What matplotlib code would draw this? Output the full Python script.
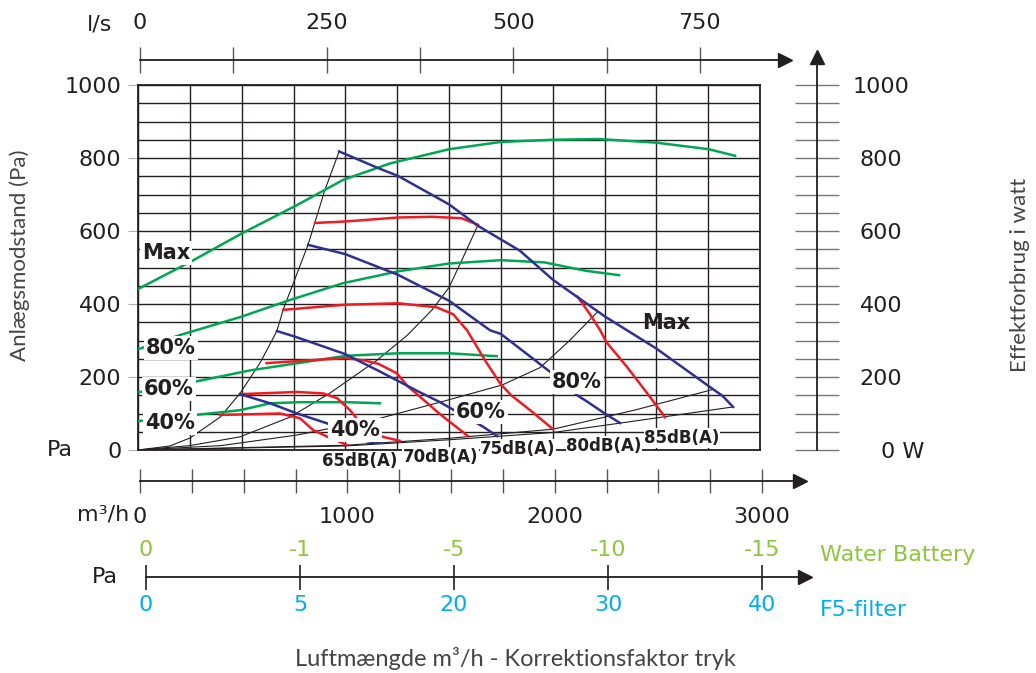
import numpy as np
import matplotlib.pyplot as plt

plt.rcParams['font.family'] = ['DejaVu Sans']

W, H = 1036, 673
ink = '#231f20'
green = '#00a651'
red = '#ed1c24'
blue = '#2e3192'
battery_col = '#8dc63f'
filter_col = '#00aeef'
thin_font = ['Lato', 'DejaVu Sans']

# grid og akser
q_grid = np.arange(0, 3001, 250)
p_major = [0, 200, 400, 600, 800, 1000]
p_minor = np.arange(0, 1001, 50)
ls_ticks = [0, 125, 250, 375, 500, 625, 750]
ls_labels = ['0', '', '250', '', '500', '', '750']
m3_labels = ['0', '', '', '', '1000', '', '', '', '2000', '', '', '', '3000']
watt_labels = ['0 W', '200', '400', '600', '800', '1000']
battery_labels = ['0', '-1', '-5', '-10', '-15']
filter_labels = ['0', '5', '20', '30', '40']

# effektforbrug (W) - grønne kurver
g_max_q = [0, 251, 506, 767, 989, 1215, 1500, 1750, 2002, 2220, 2500, 2754, 2880]
g_max_p = [441, 515, 595, 671, 740, 785, 824, 844, 850, 852, 842, 824, 806]
g_80_q = [0, 203, 492, 733, 989, 1250, 1500, 1750, 1960, 2160, 2320]
g_80_p = [276, 315, 364, 411, 457, 489, 511, 520, 514, 491, 479]
g_60_q = [0, 265, 540, 863, 1000, 1254, 1500, 1730]
g_60_p = [158, 186, 218, 246, 258, 265, 265, 257]
g_40_q = [0, 275, 492, 637, 780, 1008, 1167]
g_40_p = [79, 96, 109, 128, 131, 131, 128]

# ventilatorkurver (Pa) - blå
b_max_q = [970, 1160, 1254, 1500, 1640, 1842, 2002, 2254, 2500, 2760, 2820, 2870]
b_max_p = [818, 772, 751, 673, 614, 546, 466, 365, 278, 172, 148, 118]
b_80_q = [820, 998, 1254, 1500, 1698, 1750, 1997, 2123, 2160, 2254, 2325]
b_80_p = [562, 537, 480, 409, 328, 318, 210, 148, 135, 99, 74]
b_60_q = [670, 760, 998, 1160, 1360, 1457, 1500, 1664, 1732]
b_60_p = [326, 310, 263, 217, 158, 131, 117, 64, 38]
b_40_q = [492, 637, 767, 912, 1000, 1105, 1167]
b_40_p = [153, 128, 100, 73, 50, 24, 20]

# lydniveau - røde kurver
r_top_q = [854, 998, 1254, 1420, 1560, 1640]
r_top_p = [622, 626, 637, 639, 635, 617]
r_80_q = [700, 998, 1254, 1440, 1520, 1587, 1680, 1750, 1800, 1900, 2002]
r_80_p = [384, 398, 402, 391, 372, 328, 240, 180, 150, 105, 57]
r_75_q = [620, 998, 1086, 1160, 1249, 1300, 1360, 1457, 1520, 1592]
r_75_p = [238, 252, 246, 236, 210, 175, 146, 98, 70, 38]
r_70_q = [492, 767, 893, 960, 1023, 1086, 1182, 1264]
r_70_p = [153, 159, 155, 142, 109, 64, 36, 25]
r_65_q = [396, 685, 781, 844, 926, 1008]
r_65_p = [96, 100, 87, 55, 33, 14]
r_85_q = [2120, 2180, 2228, 2260, 2358, 2450, 2542]
r_85_p = [420, 372, 329, 295, 228, 160, 90]

# anlægskurver - tynde sorte
k1_q = [0, 154, 251, 396, 492, 590, 670, 700, 760, 820, 900, 970]
k1_p = [0, 11, 33, 90, 155, 240, 326, 384, 473, 562, 710, 818]
k2_q = [0, 250, 492, 733, 926, 1153, 1300, 1420, 1500, 1570, 1640]
k2_p = [0, 12, 36, 90, 156, 246, 315, 385, 445, 530, 617]
k3_q = [0, 400, 767, 1167, 1457, 1756, 1940, 2080, 2214]
k3_p = [0, 12, 41, 87, 131, 178, 226, 299, 377]
k4_q = [0, 1000, 1500, 2002, 2400, 2774]
k4_p = [0, 13, 32, 57, 110, 166]
k5_q = [0, 1000, 1500, 2002, 2330, 2870]
k5_p = [0, 11, 28, 48, 74, 118]


def fx(x):
    return x / W


def fy(y):
    return 1 - y / H


fig = plt.figure(figsize=(W / 100, H / 100), dpi=100)

# hoveddiagram
ax = fig.add_axes([fx(138), fy(450), fx(760) - fx(138), fy(85) - fy(450)])
ax.set_xlim(0, 3000)
ax.set_ylim(0, 1000)
ax.set_xticks(q_grid)
ax.set_yticks(p_major)
ax.set_yticks(p_minor, minor=True)
ax.grid(which='both', color=ink, lw=1.0)
ax.tick_params(axis='x', length=0, labelbottom=False)
ax.tick_params(axis='y', which='major', length=7, color='#b0b0b0', labelsize=16,
               pad=5, labelcolor=ink)
ax.tick_params(axis='y', which='minor', length=0)
for s in ax.spines.values():
    s.set_color(ink)
    s.set_linewidth(1.3)

for q, p in [(k1_q, k1_p), (k2_q, k2_p), (k3_q, k3_p), (k4_q, k4_p), (k5_q, k5_p)]:
    ax.plot(q, p, color=ink, lw=0.8, zorder=3)
for q, p in [(g_max_q, g_max_p), (g_80_q, g_80_p), (g_60_q, g_60_p), (g_40_q, g_40_p)]:
    ax.plot(q, p, color=green, lw=1.8, zorder=4, solid_joinstyle='round')
for q, p in [(r_top_q, r_top_p), (r_80_q, r_80_p), (r_75_q, r_75_p),
             (r_70_q, r_70_p), (r_65_q, r_65_p), (r_85_q, r_85_p)]:
    ax.plot(q, p, color=red, lw=1.8, zorder=4, solid_joinstyle='round')
for q, p in [(b_max_q, b_max_p), (b_80_q, b_80_p), (b_60_q, b_60_p), (b_40_q, b_40_p)]:
    ax.plot(q, p, color=blue, lw=1.8, zorder=4, solid_joinstyle='round')

box = dict(facecolor='white', edgecolor='none', pad=1.5)
for txt, q, p in [('Max', 135, 540), ('80%', 159, 279), ('60%', 150, 167), ('40%', 154, 74),
                  ('80%', 2117, 186), ('60%', 1654, 104), ('40%', 1047, 55)]:
    ax.text(q, p, txt, fontsize=15, fontweight='bold', color=ink, ha='center',
            va='center', bbox=box, zorder=6)
ax.text(2547, 348, 'Max', fontsize=15, fontweight='bold', color=ink, ha='center',
        va='center', zorder=6)
for txt, q, p in [('65dB(A)', 1071, -30), ('70dB(A)', 1461, -19), ('75dB(A)', 1833, 3),
                  ('80dB(A)', 2248, 11), ('85dB(A)', 2624, 33)]:
    ax.text(q, p, txt, fontsize=12, fontweight='bold', color=ink, ha='center',
            va='center', bbox=dict(facecolor='white', edgecolor='none', pad=0.5),
            zorder=6, clip_on=False)

# l/s akse øverst
ax_ls = fig.add_axes([fx(140), fy(60), fx(785) - fx(140), 1e-4])
ax_ls.set_xlim(0, 645 / (622 / 3000 * 3.6))
ax_ls.set_xticks(ls_ticks, labels=ls_labels)
ax_ls.set_yticks([])
for k in ['left', 'right', 'bottom']:
    ax_ls.spines[k].set_visible(False)
ax_ls.spines['top'].set_color(ink)
ax_ls.spines['top'].set_linewidth(1.3)
ax_ls.xaxis.tick_top()
ax_ls.tick_params(axis='x', direction='inout', length=19, width=1.0, color='#555555',
                  labelsize=16, pad=10, labelcolor=ink)
ax_ls.plot(1, 1, marker='>', ms=10, color=ink, transform=ax_ls.transAxes, clip_on=False)

# effektforbrug til højre
ax_w = fig.add_axes([fx(817), fy(450), 1e-4, fy(57) - fy(450)])
ax_w.set_ylim(0, 393 / 0.365)
ax_w.set_xticks([])
ax_w.set_yticks(p_major, labels=watt_labels)
ax_w.set_yticks(p_minor, minor=True)
for k in ['left', 'top', 'bottom']:
    ax_w.spines[k].set_visible(False)
ax_w.spines['right'].set_color(ink)
ax_w.spines['right'].set_linewidth(1.3)
ax_w.yaxis.tick_right()
ax_w.tick_params(axis='y', which='both', direction='inout', length=32, width=1.0,
                 color='#777777')
ax_w.tick_params(axis='y', which='major', labelsize=16, pad=30, labelcolor=ink)
for lbl in ax_w.get_yticklabels():
    lbl.set_ha('center')
ax_w.get_yticklabels()[0].set_ha('left')
ax_w.plot(1, 1, marker='^', ms=10, color=ink, transform=ax_w.transAxes, clip_on=False)

# m3/h akse
ax_m3 = fig.add_axes([fx(140), fy(481), fx(800) - fx(140), 1e-4])
ax_m3.set_xlim(0, 660 / (622 / 3000))
ax_m3.set_xticks(q_grid, labels=m3_labels)
ax_m3.set_yticks([])
for k in ['left', 'right', 'top']:
    ax_m3.spines[k].set_visible(False)
ax_m3.spines['bottom'].set_color(ink)
ax_m3.spines['bottom'].set_linewidth(1.3)
ax_m3.tick_params(axis='x', direction='inout', length=17, width=1.0, color='#555555',
                  labelsize=16, pad=10, labelcolor=ink)
ax_m3.plot(1, 0, marker='>', ms=10, color=ink, transform=ax_m3.transAxes, clip_on=False)

# korrektionsfaktor tryk
ax_pa = fig.add_axes([fx(146), fy(577), fx(805) - fx(146), 1e-4])
ax_pa.set_xlim(0, 659 / 154)
ax_pa.set_xticks(range(len(filter_labels)), labels=filter_labels)
ax_pa.set_yticks([])
for k in ['left', 'right', 'top']:
    ax_pa.spines[k].set_visible(False)
ax_pa.spines['bottom'].set_color(ink)
ax_pa.spines['bottom'].set_linewidth(1.3)
ax_pa.tick_params(axis='x', direction='inout', length=18, width=1.2, color=ink,
                  labelsize=16, pad=4, labelcolor=filter_col)
ax_pa.plot(1, 0, marker='>', ms=10, color=ink, transform=ax_pa.transAxes, clip_on=False)
sec = ax_pa.secondary_xaxis('top')
sec.set_xticks(range(len(battery_labels)), labels=battery_labels)
sec.tick_params(axis='x', length=0, labelsize=16, pad=12, labelcolor=battery_col)
for s in sec.spines.values():
    s.set_visible(False)

# tekster
fig.text(fx(100), fy(25), 'l/s', fontsize=16, color=ink, ha='center', va='center')
fig.text(fx(60), fy(450), 'Pa', fontsize=16, color=ink, ha='center', va='center')
fig.text(fx(103), fy(515), 'm³/h', fontsize=16, color=ink, ha='center', va='center')
fig.text(fx(105), fy(577), 'Pa', fontsize=16, color=ink, ha='center', va='center')
fig.text(fx(820), fy(555), 'Water Battery', fontsize=16, color=battery_col, va='center')
fig.text(fx(820), fy(610), 'F5-filter', fontsize=16, color=filter_col, va='center')
fig.text(fx(20), fy(255), 'Anlægsmodstand (Pa)', fontsize=16, color='#444444',
         rotation=90, ha='center', va='center', family=thin_font)
fig.text(fx(1020), fy(275), 'Effektforbrug i watt', fontsize=16, color='#444444',
         rotation=90, ha='center', va='center', family=thin_font)
fig.text(fx(515), fy(658), 'Luftmængde m³/h - Korrektionsfaktor tryk', fontsize=17,
         color='#444444', ha='center', va='center', family=thin_font)

fig.savefig('out.png', dpi=100)
